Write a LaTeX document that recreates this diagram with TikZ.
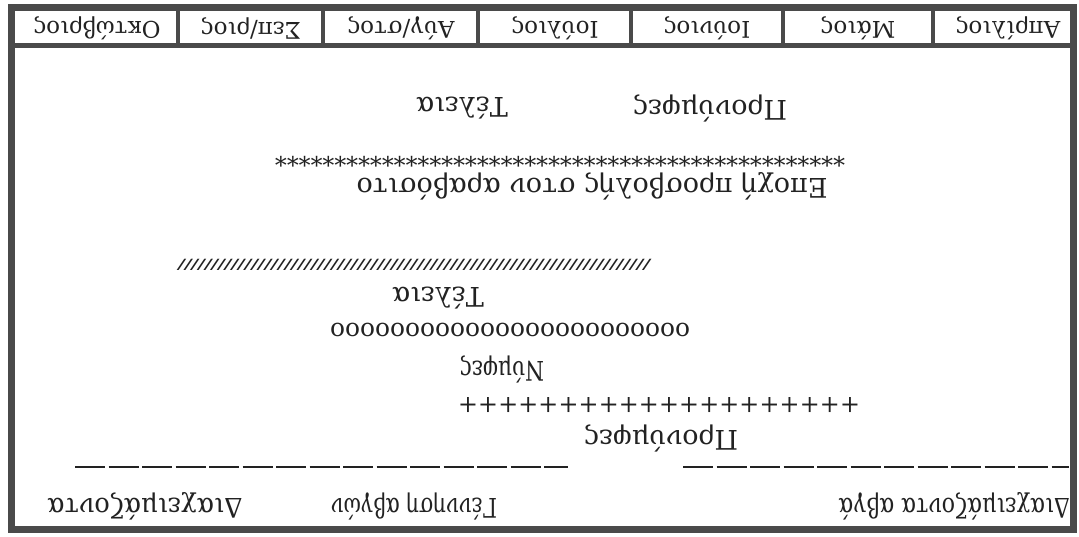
\documentclass[tikz,border=0pt]{standalone}
\usepackage{fontspec}
\setmainfont{DejaVu Serif}
\definecolor{ink}{HTML}{222222}
\definecolor{framecol}{HTML}{4A4A4A}
\begin{document}
\begin{tikzpicture}[x=1pt,y=-1pt,
  lab/.style={rotate=180, font=\fontsize{27}{29}\selectfont, text=ink, inner sep=0pt},
  month/.style={rotate=180, font=\fontsize{23}{25}\selectfont, text=ink, inner sep=0pt},
  symrow/.style={rotate=180, text=ink, inner sep=0pt},
  frameline/.style={draw=framecol},
  dashrow/.style={draw=ink, line width=1.6pt, dash pattern=on 30pt off 3.5pt}
]
\useasboundingbox (0,0) rectangle (1079,536);
\fill[white] (0,0) rectangle (1079,536);
% frame
\draw[frameline, line width=7pt] (11.5,7.5) rectangle (1073.5,529.5);
\draw[frameline, line width=5pt] (8,45.5) -- (1077,45.5);
\foreach \x in {178,323,478,631,783,933}
  \draw[frameline, line width=4.5pt] (\x,8) -- (\x,45);
% months
\node[month] (m7) at (97,28) {Οκτώβριος};
\node[month] (m6) at (251,28) {Σεπ/ριος};
\node[month] (m5) at (401,28) {Αύγ/στος};
\node[month] (m4) at (555,28) {Ιούλιος};
\node[month] (m3) at (707,28) {Ιούνιος};
\node[month] (m2) at (858,28) {Μάιος};
\node[month] (m1) at (1008,28) {Απρίλιος};
% upper block
\node[lab] (pron1) at (710,108) {Προνύμφες};
\node[lab] (tel1) at (462,108) {Τέλεια};
\node[symrow] (stars) at (560,158) {\resizebox{570pt}{!}{\fontsize{24}{24}\selectfont ************************************************}};
\node[lab] (epoch) at (592,186) {Εποχή προσβολής στον αραβόσιτο};
% middle block
\node[symrow] (hatch) at (414,265) {\resizebox{472pt}{10pt}{\bfseries\itshape ///////////////////////////////////////////////////////////////////////}};
\node[lab] (tel2) at (438,298) {Τέλεια};
\node[symrow] (oos) at (510,330) {\resizebox{360pt}{!}{\fontsize{24}{24}\selectfont oooooooooooooooooooooooo}};
\node[lab, xscale=0.8] (nym) at (502,369) {Νύμφες};
\node[symrow] (plus) at (659,405) {\resizebox{402pt}{!}{\fontsize{24}{24}\selectfont ++++++++++++++++++++}};
\node[lab] (pron2) at (661,438) {Προνύμφες};
% dashed rows
\coordinate (dl1) at (75,467);
\coordinate (dl2) at (568,467);
\coordinate (dr1) at (683,467);
\coordinate (dr2) at (1069,467);
\draw[dashrow] (dl1) -- (dl2);
\draw[dashrow] (dr1) -- (dr2);
% bottom labels
\node[lab, xscale=0.82] (dia1) at (954,506) {Διαχειμάζοντα αβγά};
\node[lab, xscale=0.78] (gen) at (414,506) {Γέννηση αβγών};
\node[lab, xscale=0.95] (dia2) at (145,506) {Διαχειμάζοντα};
\end{tikzpicture}
\end{document}
